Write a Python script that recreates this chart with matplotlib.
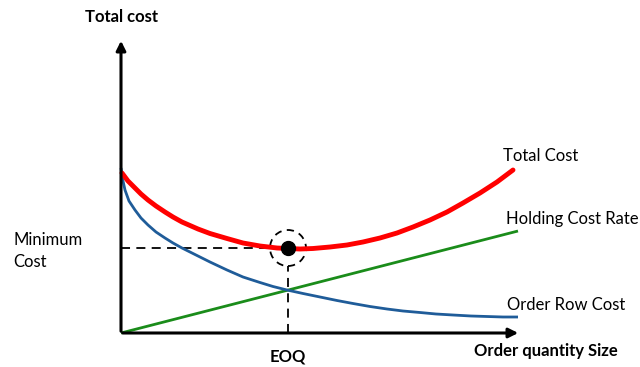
import matplotlib.pyplot as plt
from matplotlib.patches import Circle

plt.rcParams['font.family'] = ['Lato', 'DejaVu Sans']

# values (x = order quantity, y = cost)
total_x = [1, 7, 14, 20, 27, 35, 44, 52, 61, 69, 77, 89, 106, 122, 139, 156, 167, 179, 192, 209, 226,
           242, 259, 276, 292, 309, 326, 342, 359, 376, 392]
total_y = [160, 152, 145, 139, 133, 127, 121, 116, 111, 107.5, 104, 99.5, 94.5, 90, 87, 85, 84.5, 84, 84.5, 86, 88,
           91, 95, 100, 106, 113, 121, 130, 140, 151, 163]

order_x = [0, 2, 4, 8, 14, 20, 27, 35, 44, 52, 61, 77, 89, 106, 122, 139, 152, 166, 182, 199, 216, 232,
           249, 266, 282, 299, 315, 332, 350, 366, 382, 397]
order_y = [165, 152, 143, 132, 123, 115, 108, 101, 95, 90, 85, 77, 71, 63, 56, 50.5, 46.5, 43, 39.5, 36, 32.5, 29.5,
           26.5, 24, 22, 20.5, 19, 18, 17, 16.5, 16, 16]

holding_x = [0, 397]
holding_y = [0, 102]

eoq = 167
min_cost = 85

fig = plt.figure(figsize=(6.4, 3.67), dpi=100)
ax = fig.add_axes([0, 0, 1, 1])
ax.set_xlim(-121, 519)
ax.set_ylim(-34, 333)
ax.axis('off')

# axes arrows
ax.annotate('', xy=(0, 295), xytext=(0, -1),
            arrowprops=dict(arrowstyle='-|>', color='black', lw=2.2, mutation_scale=14))
ax.annotate('', xy=(400, 0), xytext=(-1, 0),
            arrowprops=dict(arrowstyle='-|>', color='black', lw=2.2, mutation_scale=14))

# guide lines
ax.plot([0, eoq], [min_cost, min_cost], color='black', lw=1.3, ls=(0, (5, 3.5)))
ax.plot([eoq, eoq], [0, min_cost - 18], color='black', lw=1.3, ls=(0, (5, 3.5)))

# curves
ax.plot(holding_x, holding_y, color='#1A8C1A', lw=2, solid_capstyle='butt')
ax.plot(order_x, order_y, color='#1F5C99', lw=2, solid_capstyle='butt', solid_joinstyle='round')
ax.plot(total_x, total_y, color='#FF0000', lw=3.5, solid_capstyle='round', solid_joinstyle='round')

ax.add_patch(Circle((eoq, min_cost), 18, fill=False, ec='black', lw=1.3, ls=(0, (4, 3))))
ax.plot([eoq], [min_cost], 'o', color='black', ms=10)

# labels
ax.text(0, 316, 'Total cost', ha='center', va='center', fontsize=12, fontweight='bold')
ax.text(eoq, -23, 'EOQ', ha='center', va='center', fontsize=12, fontweight='bold')
ax.text(353, -18, 'Order quantity Size', ha='left', va='center', fontsize=12, fontweight='bold')
ax.text(-108, 93, 'Minimum', ha='left', va='center', fontsize=12)
ax.text(-108, 71, 'Cost', ha='left', va='center', fontsize=12)
ax.text(382, 177, 'Total Cost', ha='left', va='center', fontsize=12)
ax.text(385, 114, 'Holding Cost Rate', ha='left', va='center', fontsize=12)
ax.text(386, 28, 'Order Row Cost', ha='left', va='center', fontsize=12)

fig.savefig('out.png', dpi=100)
